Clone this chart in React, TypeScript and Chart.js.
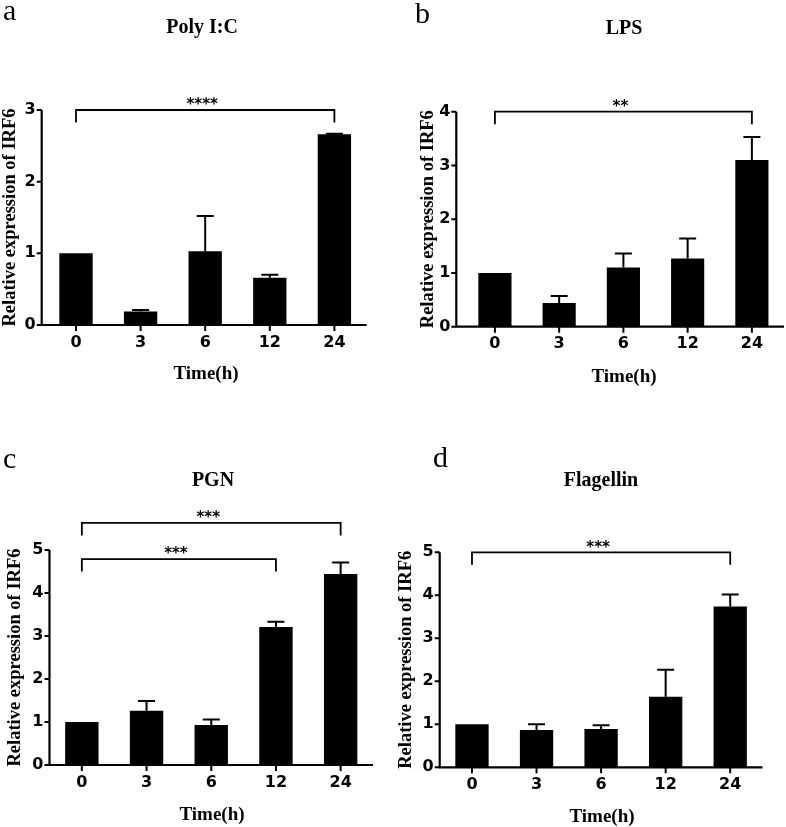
import React, { useEffect, useRef } from 'react';
import { Chart, registerables } from 'chart.js';

Chart.register(...registerables);

// ---------- data ----------
const timeLabels = ['0', '3', '6', '12', '24'];

const polyMeans = [1.0, 0.19, 1.03, 0.66, 2.66];
const polySem = [0, 0.02, 0.49, 0.04, 0.01];

const lpsMeans = [1.0, 0.44, 1.1, 1.27, 3.1];
const lpsSem = [0, 0.13, 0.26, 0.37, 0.43];

const pgnMeans = [1.0, 1.26, 0.93, 3.21, 4.44];
const pgnSem = [0, 0.23, 0.13, 0.12, 0.27];

const flaMeans = [1.0, 0.87, 0.89, 1.64, 3.74];
const flaSem = [0, 0.13, 0.09, 0.63, 0.28];

const polyBrackets = [{ from: 0, to: 4, level: 3.0, label: '****' }];
const lpsBrackets = [{ from: 0, to: 4, level: 4.0, label: '**' }];
const pgnBrackets = [
  { from: 0, to: 4, level: 5.63, label: '***' },
  { from: 0, to: 3, level: 4.79, label: '***' },
];
const flaBrackets = [{ from: 0, to: 4, level: 5.0, label: '***' }];

const yMaxes = [3, 4, 5, 5];
const panelLetters = ['a', 'b', 'c', 'd'];
const panelTitles = ['Poly I:C', 'LPS', 'PGN', 'Flagellin'];
const xTitle = 'Time(h)';
const yTitle = 'Relative expression of IRF6';

// ---------- layout (pixel geometry, canvas-local) ----------
const SERIF = "'Liberation Serif', 'Times New Roman', serif";
const SANS = "'DejaVu Sans', 'Liberation Sans', Arial, sans-serif";

type Bracket = { from: number; to: number; level: number; label: string };
type PanelGeom = {
  left: number; top: number; w: number; h: number;
  L: number; R: number; T: number; B: number; axisOff: number;
  letterX: number; letterY: number;
  titleX: number; titleY: number;
  xtX: number; xtY: number;
  ytX: number;
};

const geoms: PanelGeom[] = [
  { left: 0, top: 0, w: 393, h: 405, L: 43.7, R: 366.7, T: 110, B: 325, axisOff: 2,
    letterX: 3, letterY: 20, titleX: 202, titleY: 28, xtX: 206, xtY: 374, ytX: 10 },
  { left: 393, top: 0, w: 393, h: 405, L: 69.8, R: 391, T: 111.7, B: 326.7, axisOff: 6.5,
    letterX: 22, letterY: 23, titleX: 231, titleY: 29, xtX: 231, xtY: 377, ytX: 35 },
  { left: 0, top: 405, w: 393, h: 422, L: 49.5, R: 373, T: 145, B: 360, axisOff: 0,
    letterX: 3, letterY: 63, titleX: 213, titleY: 76, xtX: 212, xtY: 410, ytX: 15 },
  { left: 393, top: 405, w: 393, h: 422, L: 46.7, R: 369.5, T: 147.3, B: 362.3, axisOff: 0,
    letterX: 40, letterY: 62, titleX: 208, titleY: 76, xtX: 209, xtY: 412, ytX: 13 },
];

const Y_AXIS_W = 40;
const X_AXIS_H = 40;

type PanelProps = {
  idx: number;
  means: number[];
  sem: number[];
  brackets: Bracket[];
};

function Panel({ idx, means, sem, brackets }: PanelProps) {
  const ref = useRef<HTMLCanvasElement | null>(null);
  const g = geoms[idx];
  const yMax = yMaxes[idx];

  useEffect(() => {
    if (!ref.current) return;

    const overlay = {
      id: 'overlay' + idx,
      afterDraw(chart: any) {
        const { ctx, chartArea } = chart;
        const xs = chart.scales.x;
        const ys = chart.scales.y;
        ctx.save();
        ctx.strokeStyle = '#000';
        ctx.fillStyle = '#000';
        ctx.lineCap = 'butt';

        // axes
        const ax = chartArea.left - g.axisOff;
        const bottom = ys.getPixelForValue(0);
        ctx.lineWidth = 2.2;
        ctx.beginPath();
        ctx.moveTo(ax, ys.getPixelForValue(yMax));
        ctx.lineTo(ax, bottom + 1);
        ctx.moveTo(ax - 1, bottom);
        ctx.lineTo(chartArea.right, bottom);
        ctx.stroke();
        // y ticks
        ctx.lineWidth = 2;
        ctx.beginPath();
        for (let v = 0; v <= yMax; v++) {
          const py = ys.getPixelForValue(v);
          ctx.moveTo(ax - 5, py);
          ctx.lineTo(ax, py);
        }
        // x ticks
        for (let i = 0; i < timeLabels.length; i++) {
          const px = xs.getPixelForValue(i);
          ctx.moveTo(px, bottom);
          ctx.lineTo(px, bottom + 6);
        }
        ctx.stroke();

        // error bars
        ctx.lineWidth = 2;
        for (let i = 0; i < means.length; i++) {
          if (!sem[i]) continue;
          const px = xs.getPixelForValue(i);
          const yTop = ys.getPixelForValue(means[i]);
          const yErr = ys.getPixelForValue(means[i] + sem[i]);
          ctx.beginPath();
          ctx.moveTo(px, yTop);
          ctx.lineTo(px, yErr);
          ctx.moveTo(px - 8.5, yErr);
          ctx.lineTo(px + 8.5, yErr);
          ctx.stroke();
        }

        // brackets
        ctx.lineWidth = 1.8;
        const drop = 12.5;
        for (const b of brackets) {
          const x1 = xs.getPixelForValue(b.from);
          const x2 = xs.getPixelForValue(b.to);
          const yb = ys.getPixelForValue(b.level);
          ctx.beginPath();
          ctx.moveTo(x1, yb + drop);
          ctx.lineTo(x1, yb);
          ctx.lineTo(x2, yb);
          ctx.lineTo(x2, yb + drop);
          ctx.stroke();
          const fs = 15;
          ctx.font = `bold ${fs}px ${SANS}`;
          ctx.textAlign = 'center';
          ctx.textBaseline = 'alphabetic';
          ctx.fillText(b.label, (x1 + x2) / 2 - 3, yb - 9.5 + 0.58 * fs);
        }

        // panel letter
        ctx.font = `30px ${SERIF}`;
        ctx.textAlign = 'left';
        ctx.textBaseline = 'alphabetic';
        ctx.fillText(panelLetters[idx], g.letterX, g.letterY);

        // title
        ctx.font = `bold 20px ${SERIF}`;
        ctx.textAlign = 'center';
        ctx.textBaseline = 'middle';
        ctx.fillText(panelTitles[idx], g.titleX, g.titleY);

        // x title
        ctx.font = `bold 19px ${SERIF}`;
        ctx.fillText(xTitle, g.xtX, g.xtY);

        // y title
        ctx.save();
        ctx.translate(g.ytX, (chartArea.top + chartArea.bottom) / 2);
        ctx.rotate(-Math.PI / 2);
        ctx.font = `bold 18.5px ${SERIF}`;
        ctx.fillText(yTitle, 0, 0);
        ctx.restore();

        ctx.restore();
      },
    };

    const chart = new Chart(ref.current, {
      type: 'bar',
      data: {
        labels: timeLabels,
        datasets: [
          {
            data: means,
            backgroundColor: '#000',
            borderWidth: 0,
            barPercentage: 0.516,
            categoryPercentage: 1,
          },
        ],
      },
      options: {
        responsive: false,
        animation: false,
        devicePixelRatio: 1,
        layout: {
          padding: {
            left: g.L - Y_AXIS_W,
            right: g.w - g.R,
            top: g.T,
            bottom: g.h - g.B - X_AXIS_H,
          },
        },
        plugins: {
          legend: { display: false },
          title: { display: false },
          tooltip: { enabled: false },
        },
        scales: {
          x: {
            type: 'category',
            offset: true,
            grid: { display: false, drawTicks: false },
            border: { display: false },
            ticks: {
              color: '#000',
              font: { family: SANS, size: 16, weight: 'bold' },
              padding: 8,
              maxRotation: 0,
              autoSkip: false,
            },
            afterFit: (s: any) => { s.height = X_AXIS_H; },
          },
          y: {
            min: 0,
            max: yMax,
            grid: { display: false, drawTicks: false },
            border: { display: false },
            ticks: {
              stepSize: 1,
              color: '#000',
              font: { family: SANS, size: 16, weight: 'bold' },
              padding: g.axisOff + 6,
            },
            afterFit: (s: any) => { s.width = Y_AXIS_W; },
          },
        },
      },
      plugins: [overlay],
    } as any);

    return () => chart.destroy();
  }, [idx, means, sem, brackets]);

  return (
    <canvas
      ref={ref}
      width={g.w}
      height={g.h}
      style={{ position: 'absolute', left: g.left, top: g.top, width: g.w, height: g.h }}
    />
  );
}

export default function App() {
  useEffect(() => {
    document.body.style.margin = '0';
    document.body.style.background = '#fff';
  }, []);
  return (
    <div style={{ position: 'relative', width: 786, height: 827, background: '#fff', overflow: 'hidden' }}>
      <Panel idx={0} means={polyMeans} sem={polySem} brackets={polyBrackets} />
      <Panel idx={1} means={lpsMeans} sem={lpsSem} brackets={lpsBrackets} />
      <Panel idx={2} means={pgnMeans} sem={pgnSem} brackets={pgnBrackets} />
      <Panel idx={3} means={flaMeans} sem={flaSem} brackets={flaBrackets} />
    </div>
  );
}
